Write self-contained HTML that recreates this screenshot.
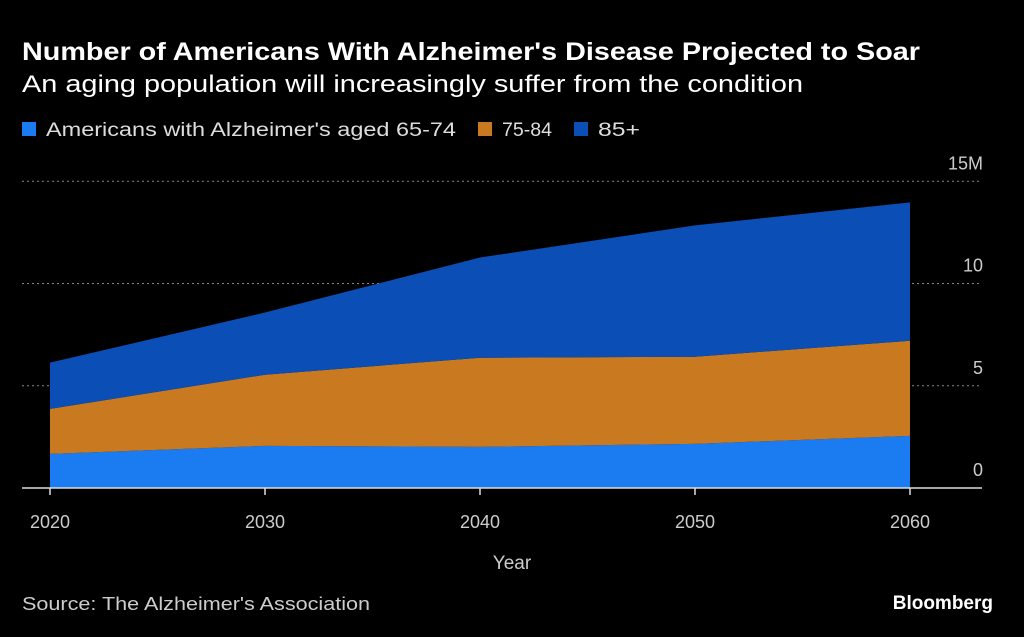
<!DOCTYPE html>
<html><head><meta charset="utf-8">
<style>
body{margin:0;background:#000;width:1024px;height:637px;overflow:hidden;font-family:"Liberation Sans",sans-serif;color:#fff}
svg{position:absolute;left:0;top:0}
</style></head>
<body>
<svg width="1024" height="637">
<text x="22" y="60" font-size="25" font-weight="bold" fill="#fff" textLength="898" lengthAdjust="spacingAndGlyphs">Number of Americans With Alzheimer's Disease Projected to Soar</text>
<text x="22" y="92" font-size="24" fill="#fff" textLength="781" lengthAdjust="spacingAndGlyphs">An aging population will increasingly suffer from the condition</text>
<g id="legend"></g>
<g id="grid"></g>
<g id="areas"></g>
<g id="axes"></g>
<text x="512" y="569" font-size="19" fill="#ccc" text-anchor="middle">Year</text>
<text x="22" y="610" font-size="18" fill="#ccc" textLength="348" lengthAdjust="spacingAndGlyphs">Source: The Alzheimer's Association</text>
<text x="993" y="609" font-size="19" font-weight="bold" fill="#fff" text-anchor="end">Bloomberg</text>
</svg>
<script>
const years=[2020,2030,2040,2050,2060];
const age6574=[1.67,2.06,2.01,2.16,2.55];
const age7584=[2.2,3.48,4.36,4.26,4.65];
const age85=[2.26,3.04,4.9,6.42,6.77];
const yTicks=[0,5,10,15];
const yTickLabels=["0","5","10","15M"];
const seriesNames=["Americans with Alzheimer's aged 65-74","75-84","85+"];
const colors=["#1b7cf2","#c97a20","#0b4fb6"];
const NS="http://www.w3.org/2000/svg";
const x=v=>50+(v-2020)*(860/40);
const y=v=>488-v*20.45;
function mk(tag,attrs,parent){const e=document.createElementNS(NS,tag);for(const k in attrs)e.setAttribute(k,attrs[k]);parent.appendChild(e);return e;}
const grid=document.getElementById('grid'),areas=document.getElementById('areas'),axes=document.getElementById('axes'),legend=document.getElementById('legend');
yTicks.forEach((t,i)=>{
  if(t>0){const l=mk('line',{x1:22,x2:982,y1:y(t),y2:y(t),stroke:'#888','stroke-dasharray':'2,3','stroke-width':1},grid);
  
  }
  const tx=mk('text',{x:983,y:y(t)-12,'font-size':18,fill:'#ccc','text-anchor':'end'},axes);
  tx.textContent=yTickLabels[i];
  
  
});
const stacks=[age6574,age7584,age85];
let base=years.map(()=>0);
stacks.forEach((s,si)=>{
  const top=base.map((b,i)=>b+s[i]);
  let d='M'+years.map((yr,i)=>x(yr)+','+y(top[i])).join(' L');
  for(let i=years.length-1;i>=0;i--)d+=' L'+x(years[i])+','+y(base[i]);
  const p=mk('path',{d:d+'Z',fill:colors[si]},areas);
  
  
  base=top;
});
const ax=mk('line',{x1:22,x2:982,y1:488,y2:488,stroke:'#ddd','stroke-width':1.5},axes);


years.forEach(yr=>{
  const tk=mk('line',{x1:x(yr),x2:x(yr),y1:488,y2:495,stroke:'#ddd','stroke-width':1.5},axes);
  
  
  const tx=mk('text',{x:x(yr),y:528,'font-size':18,fill:'#ccc','text-anchor':'middle'},axes);
  tx.textContent=yr;
  
  
});
const lx=[22,478,574];
const ltw=[410,50,42];
seriesNames.forEach((n,i)=>{
  const r=mk('rect',{x:lx[i],y:122,width:14,height:14,fill:colors[i]},legend);
  
  
  const t=mk('text',{x:lx[i]+24,y:136,'font-size':19,fill:'#ddd',textLength:ltw[i],lengthAdjust:'spacingAndGlyphs'},legend);
  t.textContent=n;
  
  
});
</script>
</body></html>
